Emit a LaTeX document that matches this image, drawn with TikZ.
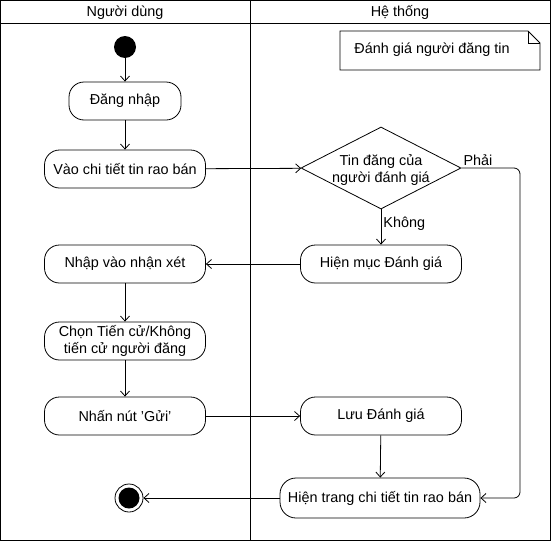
\documentclass[tikz,border=0pt]{standalone}
\usepackage{fontspec}
\setmainfont{Liberation Sans}
\usetikzlibrary{shapes.geometric,arrows.meta}
\begin{document}
\begin{tikzpicture}[x=1pt,y=-1pt,
  every node/.style={font=\fontsize{14.4}{17}\selectfont},
  act/.style={draw,rounded corners=15pt,inner sep=0pt,minimum width=161pt,minimum height=38pt,align=center,line width=0.8pt},
  arr/.style={draw,-{Straight Barb[length=5pt,width=9pt]},line width=0.8pt},
  ln/.style={line width=0.8pt}]
\useasboundingbox (0,0) rectangle (551,541);
% swimlanes
\draw[ln] (0.5,0.5) rectangle (550,540);
\draw[ln] (0.5,23) -- (550,23);
\draw[ln] (250,0.5) -- (250,540);
\node (h1) at (125,12.5) {Người dùng};
\node (h2) at (400,12.5) {Hệ thống};
% note
\draw[ln] (340,31) -- (528,31) -- (540,43) -- (540,70) -- (340,70) -- cycle;
\draw[ln] (528,31) -- (528,43) -- (540,43);
\node (note) at (432,50) {Đánh giá người đăng tin};
% nodes
\node[circle,fill=black,minimum size=22pt,inner sep=0pt] (start) at (125,47) {};
\node[act,minimum width=112pt] (login) at (125,101) {Đăng nhập};
\node[act] (view) at (125,169) {Vào chi tiết tin rao bán};
\node[draw,diamond,inner sep=0pt,minimum width=160pt,minimum height=82pt,aspect=1.95,line width=0.8pt] (dec) at (381,168) {};
\node[align=center,inner sep=0pt] (dect) at (381,170) {Tin đăng của\\người đánh giá};
\node[act] (show) at (381,264) {Hiện mục Đánh giá};
\node[act] (input) at (125,264) {Nhập vào nhận xét};
\node[act] (choose) at (125,341) {Chọn Tiến cử/Không\\tiến cử người đăng};
\node[act] (send) at (125,416) {Nhấn nút 'Gửi'};
\node[act] (save) at (381,416) {Lưu Đánh giá};
\node[act,minimum width=200pt,minimum height=40pt,rounded corners=16pt] (page) at (380,498) {Hiện trang chi tiết tin rao bán};
\node[circle,draw,line width=0.8pt,minimum size=28pt,inner sep=0pt] (end) at (129,498) {};
\node[circle,fill=black,minimum size=21pt,inner sep=0pt] (endin) at (129,498) {};
\coordinate (c1) at (520,168);
\coordinate (c2) at (520,498);
% edges
\draw[arr] (start) -- (login);
\draw[arr] (login) -- (view);
\draw[arr] (view) -- (dec);
\draw[arr] (dec) -- node[right,pos=0.4,inner sep=2pt] (lk) {Không} (show);
\draw[arr,rounded corners=6pt] (dec.east) -- (c1) -- (c2) -- (page.east);
\node[anchor=south west,inner sep=2pt] (lp) at (dec.east) {Phải};
\draw[arr] (show) -- (input);
\draw[arr] (input) -- (choose);
\draw[arr] (choose) -- (send);
\draw[arr] (send) -- (save);
\draw[arr] (save) -- (page);
\draw[arr] (page) -- (end);
\end{tikzpicture}
\end{document}
